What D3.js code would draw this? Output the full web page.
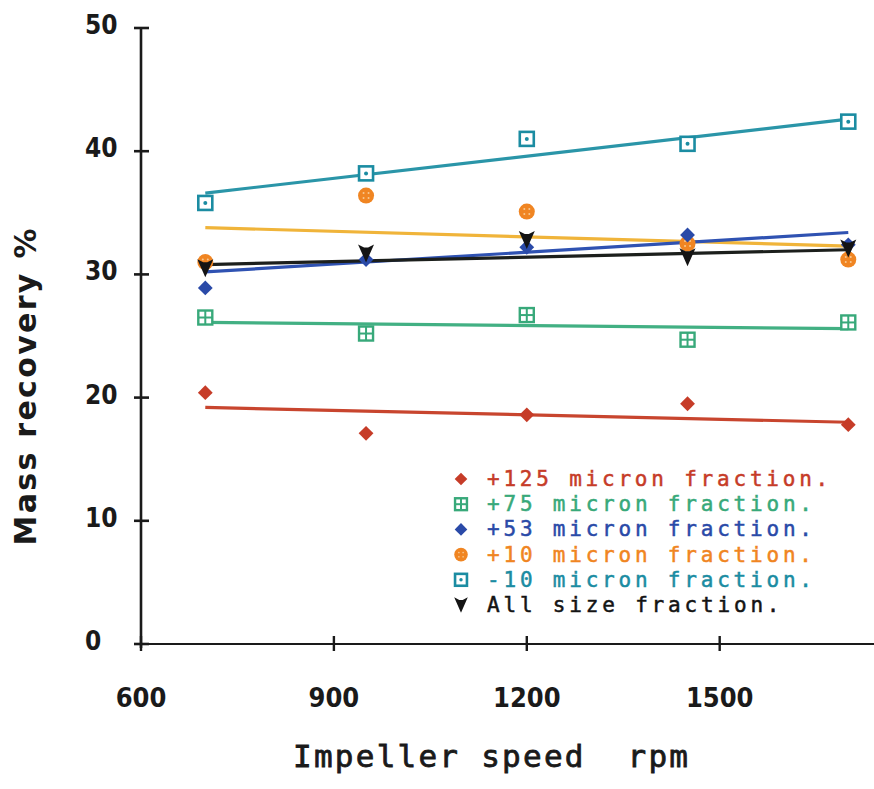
<!DOCTYPE html>
<html>
<head>
<meta charset="utf-8">
<script src="https://cdn.jsdelivr.net/npm/d3@7"></script>
<style>
html,body{margin:0;padding:0;background:#fff;}
svg{display:block;}
text{white-space:pre;}
</style>
</head>
<body>
<svg id="chart" width="874" height="789"></svg>
<script>
// ---- data ----
const speeds = [700, 950, 1200, 1450, 1700];
const xTicks = [600, 900, 1200, 1500];
const yTicks = [0, 10, 20, 30, 40, 50];

const seriesNames = [
  "+125 micron fraction.",
  "+75 micron fraction.",
  "+53 micron fraction.",
  "+10 micron fraction.",
  "-10 micron fraction.",
  "All size fraction."
];
const p125 = [20.4, 17.1, 18.6, 19.5, 17.8];
const p75  = [26.5, 25.2, 26.7, 24.7, 26.1];
const p53  = [28.9, 31.2, 32.2, 33.2, 32.4];
const p10  = [31.0, 36.4, 35.1, 32.5, 31.2];
const m10  = [35.8, 38.2, 41.0, 40.6, 42.4];
const allF = [30.5, 31.7, 32.8, 31.4, 32.1];

// fitted trend lines: value at 700 rpm and at 1700 rpm
const fitP125 = [19.2, 18.0];
const fitP75  = [26.1, 25.6];
const fitP53  = [30.2, 33.4];
const fitP10  = [33.8, 32.3];
const fitM10  = [36.6, 42.6];
const fitAll  = [30.8, 32.0];
const fitX = [700, 1700];

const colors = ["#c63c28", "#38a97a", "#2a4aa8", "#f08522", "#1b8ca2", "#141414"];
const lineColors = ["#c8452e", "#42b083", "#2f52b2", "#f0b43a", "#2a95a8", "#1c1f1c"];
const markers = ["diamond", "gridsq", "diamond", "circle", "dotsq", "triangle"];

const series = [
  {name: seriesNames[0], vals: p125, fit: fitP125, color: colors[0], lc: lineColors[0], m: markers[0]},
  {name: seriesNames[1], vals: p75,  fit: fitP75,  color: colors[1], lc: lineColors[1], m: markers[1]},
  {name: seriesNames[4], vals: m10,  fit: fitM10,  color: colors[4], lc: lineColors[4], m: markers[4]},
  {name: seriesNames[3], vals: p10,  fit: fitP10,  color: colors[3], lc: lineColors[3], m: markers[3]},
  {name: seriesNames[2], vals: p53,  fit: fitP53,  color: colors[2], lc: lineColors[2], m: markers[2]},
  {name: seriesNames[5], vals: allF, fit: fitAll,  color: colors[5], lc: lineColors[5], m: markers[5]}
];

// ---- chart ----
const svg = d3.select("#chart");
const x = d3.scaleLinear().domain([600, 1740]).range([141, 874]);
const y = d3.scaleLinear().domain([0, 50]).range([644, 28]);

const tickFont = "'DejaVu Sans Condensed','DejaVu Sans',sans-serif";
const monoFont = "'DejaVu Sans Mono',monospace";

// axes
const axisG = svg.append("g");
axisG.append("line").attr("x1", x(600)).attr("x2", 874).attr("y1", y(0)).attr("y2", y(0))
  .attr("stroke", "#1a1a1a").attr("stroke-width", 2.2);
axisG.append("line").attr("x1", x(600)).attr("x2", x(600)).attr("y1", y(0) + 4).attr("y2", y(50))
  .attr("stroke", "#1a1a1a").attr("stroke-width", 2.6);

// y ticks
axisG.selectAll(".yt").data(yTicks).join("line")
  .attr("x1", x(600) - 7).attr("x2", x(600) + 8)
  .attr("y1", d => y(d)).attr("y2", d => y(d))
  .attr("stroke", "#1a1a1a").attr("stroke-width", 2.6);
axisG.selectAll(".ytl").data(yTicks).join("text")
  .attr("x", 85).attr("y", d => y(d) - 3)
  .attr("dominant-baseline", "central")
  .attr("font-family", tickFont).attr("font-stretch", "condensed")
  .attr("font-weight", "bold").attr("font-size", 26).attr("fill", "#1a1a1a")
  .text(d => d);

// x ticks
axisG.selectAll(".xt").data(xTicks).join("line")
  .attr("x1", d => x(d)).attr("x2", d => x(d))
  .attr("y1", y(0) - 8).attr("y2", y(0) + 7)
  .attr("stroke", "#1a1a1a").attr("stroke-width", 2.4);
axisG.selectAll(".xtl").data(xTicks).join("text")
  .attr("x", d => x(d)).attr("y", 697)
  .attr("text-anchor", "middle").attr("dominant-baseline", "central")
  .attr("font-family", tickFont).attr("font-stretch", "condensed")
  .attr("font-weight", "bold").attr("font-size", 27).attr("fill", "#1a1a1a")
  .text(d => d);

// axis titles
svg.append("text")
  .attr("x", 293).attr("y", 767)
  .attr("font-family", monoFont).attr("font-size", 31)
  .attr("textLength", 395).attr("lengthAdjust", "spacing")
  .attr("fill", "#1a1a1a").attr("stroke", "#1a1a1a").attr("stroke-width", 0.8)
  .text("Impeller speed  rpm");

svg.append("text")
  .attr("transform", "translate(36,387) rotate(-90)")
  .attr("text-anchor", "middle")
  .attr("font-family", "'DejaVu Sans',sans-serif").attr("font-weight", "bold").attr("font-size", 30)
  .attr("textLength", 317).attr("lengthAdjust", "spacing")
  .attr("fill", "#1a1a1a")
  .text("Mass recovery %");

// marker drawing
function drawMarker(g, type, color, cx, cy, s) {
  s = s || 1;
  if (type === "diamond") {
    g.append("path").attr("d", d3.symbol(d3.symbolDiamond2, 140 * s * s)())
      .attr("transform", `translate(${cx},${cy})`).attr("fill", color);
  } else if (type === "circle") {
    g.append("circle").attr("cx", cx).attr("cy", cy).attr("r", 8 * s).attr("fill", color);
    [[-2.5, -2.5], [2.5, -2.5], [-2.5, 2.5], [2.5, 2.5]].forEach(p => {
      g.append("circle").attr("cx", cx + p[0] * s).attr("cy", cy + p[1] * s).attr("r", 1 * s)
        .attr("fill", "#f8c890");
    });
  } else if (type === "gridsq") {
    const h = 7 * s;
    g.append("rect").attr("x", cx - h).attr("y", cy - h).attr("width", 2 * h).attr("height", 2 * h)
      .attr("fill", "#fff").attr("stroke", color).attr("stroke-width", 2.4);
    g.append("line").attr("x1", cx).attr("x2", cx).attr("y1", cy - h).attr("y2", cy + h)
      .attr("stroke", color).attr("stroke-width", 2);
    g.append("line").attr("x1", cx - h).attr("x2", cx + h).attr("y1", cy).attr("y2", cy)
      .attr("stroke", color).attr("stroke-width", 2);
  } else if (type === "dotsq") {
    const h = 7 * s;
    g.append("rect").attr("x", cx - h).attr("y", cy - h).attr("width", 2 * h).attr("height", 2 * h)
      .attr("fill", "#fff").attr("stroke", color).attr("stroke-width", 2.6);
    g.append("circle").attr("cx", cx).attr("cy", cy).attr("r", 2 * s).attr("fill", color);
  } else if (type === "triangle") {
    const w = 8 * s, ht = 9 * s;
    g.append("path")
      .attr("d", `M${cx - w},${cy - ht}L${cx - 2 * s},${cy - ht + 3 * s}L${cx + 2 * s},${cy - ht + 3 * s}L${cx + w},${cy - ht}L${cx},${cy + ht}Z`)
      .attr("fill", color);
  }
}

// lines and markers
const plotG = svg.append("g");
series.forEach(sr => {
  const line = d3.line().x(d => x(d[0])).y(d => y(d[1]));
  plotG.append("path")
    .datum(fitX.map((v, i) => [v, sr.fit[i]]))
    .attr("d", line).attr("fill", "none")
    .attr("stroke", sr.lc).attr("stroke-width", 3.2);
});
series.forEach(sr => {
  const g = plotG.append("g");
  sr.vals.forEach((v, i) => drawMarker(g, sr.m, sr.color, x(speeds[i]), y(v)));
});

// legend
const legG = svg.append("g");
seriesNames.forEach((name, i) => {
  const base = 486 + i * 25.2;
  drawMarker(legG, markers[i], colors[i], 461, base - 7, 0.85);
  legG.append("text")
    .attr("x", 487).attr("y", base)
    .attr("font-family", monoFont).attr("font-size", 21)
    .attr("textLength", name.length * 16.25).attr("lengthAdjust", "spacing")
    .attr("fill", colors[i]).attr("stroke", colors[i]).attr("stroke-width", 0.5)
    .text(name);
});
</script>
</body>
</html>
